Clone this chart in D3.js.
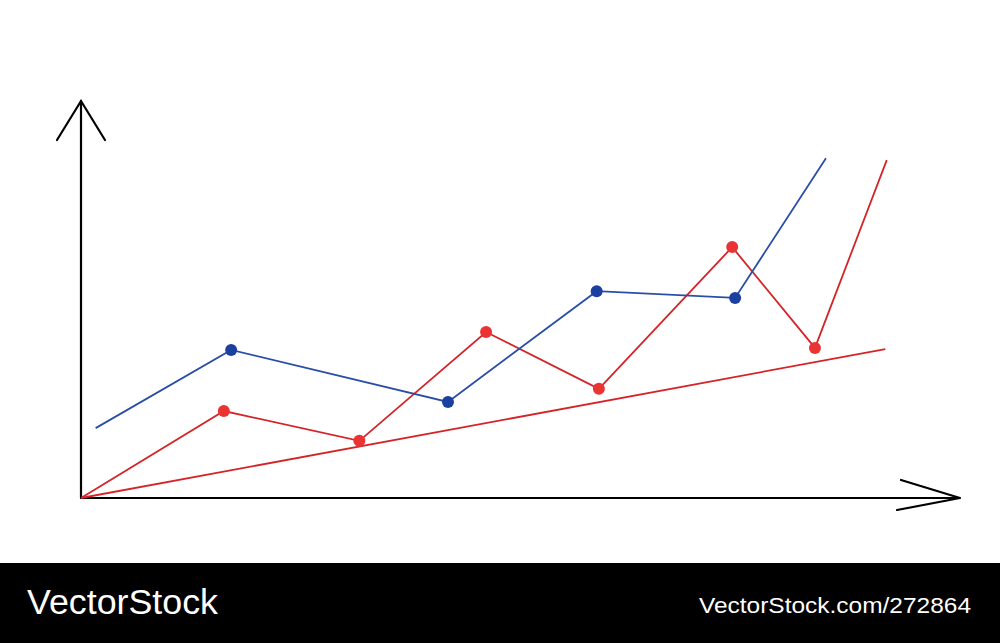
<!DOCTYPE html>
<html><head><meta charset="utf-8">
<script src="https://cdn.jsdelivr.net/npm/d3@7"></script>
<style>html,body{margin:0;padding:0;background:#fff;}svg{display:block;}</style>
</head><body>
<svg id="chart" width="1000" height="643"></svg>
<script>
// Data (x in arbitrary units 0..12, y in units 0..10)
const blueX = [0.2, 2.05, 5.01, 7.04, 8.93, 10.17];
const blueY = [1.76, 3.73, 2.42, 5.21, 5.04, 8.56];
const redX = [0, 1.95, 3.8, 5.53, 7.07, 8.89, 10.02, 11.0];
const redY = [0, 2.19, 1.44, 4.18, 2.75, 6.32, 3.78, 8.51];
const trendX = [0, 10.98];
const trendY = [0, 3.75];
const brandText = "VectorStock";
const idText = "VectorStock.com/272864";

const svg = d3.select("#chart");
const x = d3.scaleLinear().domain([0, 12]).range([81, 960]);
const y = d3.scaleLinear().domain([0, 10]).range([498, 101]);

const zip = (xs, ys) => xs.map((v, i) => [v, ys[i]]);
const line = d3.line().x(d => x(d[0])).y(d => y(d[1]));

const blue = zip(blueX, blueY), red = zip(redX, redY), trend = zip(trendX, trendY);

// axes
const ax = svg.append("g").attr("stroke", "#000").attr("stroke-width", 2.2).attr("fill", "none").attr("stroke-linecap", "round");
ax.append("line").attr("x1", x(0)).attr("y1", y(0)).attr("x2", x(0)).attr("y2", y(10));
ax.append("polyline").attr("points", [[x(0) - 24, y(10) + 39], [x(0), y(10)], [x(0) + 24, y(10) + 39]].join(" "));
ax.append("line").attr("x1", x(0)).attr("y1", y(0)).attr("x2", x(12)).attr("y2", y(0));
ax.append("polyline").attr("points", [[x(12) - 59, y(0) - 18], [x(12), y(0)], [x(12) - 63, y(0) + 12]].join(" "));

// trend
svg.append("path").datum(trend).attr("d", line).attr("fill", "none").attr("stroke", "#d42428").attr("stroke-width", 1.8);
// red series
svg.append("path").datum(red).attr("d", line).attr("fill", "none").attr("stroke", "#d42428").attr("stroke-width", 1.8);
// blue series
svg.append("path").datum(blue).attr("d", line).attr("fill", "none").attr("stroke", "#2a4ea8").attr("stroke-width", 1.8);

svg.append("g").selectAll("circle").data(red.slice(1, -1)).join("circle")
  .attr("cx", d => x(d[0])).attr("cy", d => y(d[1])).attr("r", 6).attr("fill", "#ea3434");
svg.append("g").selectAll("circle").data(blue.slice(1, -1)).join("circle")
  .attr("cx", d => x(d[0])).attr("cy", d => y(d[1])).attr("r", 6).attr("fill", "#1a40a0");

// banner
svg.append("rect").attr("x", 0).attr("y", 563).attr("width", 1000).attr("height", 80).attr("fill", "#000");
svg.append("text").attr("x", 27).attr("y", 614).attr("fill", "#fff")
  .attr("font-family", "Liberation Sans, Arial, sans-serif").attr("font-size", 35)
  .attr("textLength", 191).attr("lengthAdjust", "spacingAndGlyphs").text(brandText);
svg.append("text").attr("x", 699).attr("y", 613).attr("fill", "#fff")
  .attr("font-family", "Liberation Sans, Arial, sans-serif").attr("font-size", 22)
  .attr("textLength", 272).attr("lengthAdjust", "spacingAndGlyphs").text(idText);
</script>
</body></html>
